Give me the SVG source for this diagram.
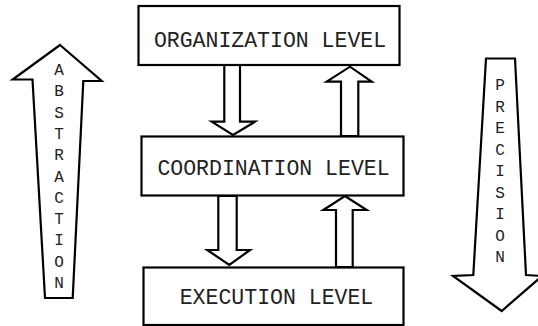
<svg xmlns="http://www.w3.org/2000/svg" width="538" height="326" viewBox="0 0 538 326">
<style>
.box{fill:#fff;stroke:#000;stroke-width:2.2}
.arr{fill:#fff;stroke:#000;stroke-width:2.2;stroke-linejoin:miter}
.t{font-family:"Liberation Mono","Courier New",monospace;font-size:21.5px;fill:#222;text-anchor:middle}
.v{font-family:"Liberation Mono","Courier New",monospace;font-size:16px;fill:#222;text-anchor:middle}
</style>
<rect width="538" height="326" fill="#fff"/>
<g id="abstraction">
<polygon class="arr" points="60,45 101.7,81 83.3,81 72.7,298 45,298 32.5,79.5 12.7,79.5"/>
<text class="v" x="59" y="75">A</text>
<text class="v" x="59" y="96.3">B</text>
<text class="v" x="59" y="117.6">S</text>
<text class="v" x="59" y="138.9">T</text>
<text class="v" x="59" y="160.2">R</text>
<text class="v" x="59" y="181.5">A</text>
<text class="v" x="59" y="202.8">C</text>
<text class="v" x="59" y="224.1">T</text>
<text class="v" x="59" y="245.4">I</text>
<text class="v" x="59" y="266.7">O</text>
<text class="v" x="59" y="288">N</text>
</g>
<g id="precision">
<polygon class="arr" points="486,58.5 515,58.5 526,275 542,276 501.7,311 453,276 473.3,275"/>
<text class="v" x="500" y="90">P</text>
<text class="v" x="500" y="111.5">R</text>
<text class="v" x="500" y="133">E</text>
<text class="v" x="500" y="154.5">C</text>
<text class="v" x="500" y="176">I</text>
<text class="v" x="500" y="197.5">S</text>
<text class="v" x="500" y="219">I</text>
<text class="v" x="500" y="240.5">O</text>
<text class="v" x="500" y="262">N</text>
</g>
<g id="connectors">
<polygon class="arr" points="224.3,65 240,65 240,121.7 255,121.7 233,135 211.7,121.7 224.3,121.7"/>
<polygon class="arr" points="341,136 358.3,136 358.3,81.7 371.7,81.7 350,66.7 326.7,81.7 341,81.7"/>
<polygon class="arr" points="218.3,196 236.7,196 236.7,250 250,250 229.3,265 207.3,250 218.3,250"/>
<polygon class="arr" points="336,267 352.7,267 352.7,210 366.7,210 345,196 323.3,210 336,210"/>
</g>
<g id="organization">
<rect class="box" x="138.5" y="6" width="261" height="59"/>
<text class="t" x="270" y="47">ORGANIZATION LEVEL</text>
</g>
<g id="coordination">
<rect class="box" x="141.5" y="136.5" width="262" height="59"/>
<text class="t" x="273.5" y="175">COORDINATION LEVEL</text>
</g>
<g id="execution">
<rect class="box" x="143.5" y="267.5" width="260" height="57.5"/>
<text class="t" x="276.5" y="303.5">EXECUTION LEVEL</text>
</g>
</svg>
